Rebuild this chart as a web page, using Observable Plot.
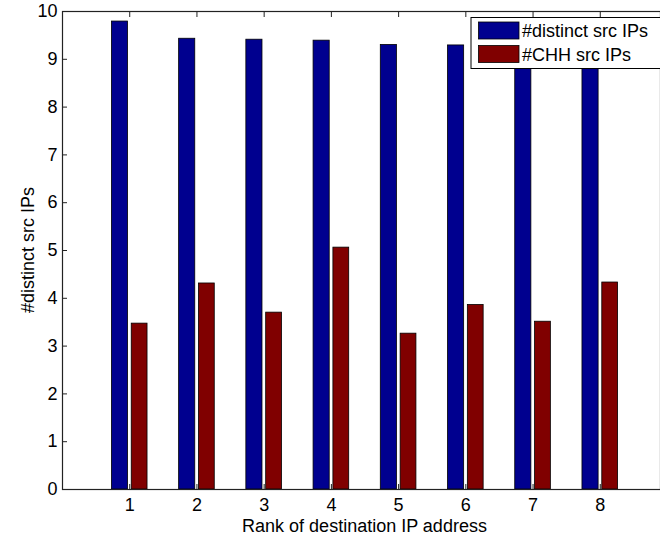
<!DOCTYPE html>
<html>
<head>
<meta charset="utf-8">
<script src="https://cdn.jsdelivr.net/npm/d3@7"></script>
<script src="https://cdn.jsdelivr.net/npm/@observablehq/plot@0.6"></script>
<style>
  html, body { margin: 0; padding: 0; background: #fff; }
  svg { display: block; }
</style>
</head>
<body>
<div id="chart"></div>
<script>
const ranks = [1, 2, 3, 4, 5, 6, 7, 8];
const distinctSrc = [9.79, 9.43, 9.41, 9.39, 9.30, 9.29, 9.20, 9.15];
const chhSrc = [3.47, 4.31, 3.70, 5.06, 3.26, 3.86, 3.51, 4.33];
const seriesNames = ["#distinct src IPs", "#CHH src IPs"];
const seriesColors = ["#00008F", "#800000"];
const yTicks = [0, 1, 2, 3, 4, 5, 6, 7, 8, 9, 10];
const xLabel = "Rank of destination IP address";
const yLabel = "#distinct src IPs";

const data = [];
ranks.forEach((r, i) => {
  data.push({rank: r, series: seriesNames[0], value: distinctSrc[i], k: 0});
  data.push({rank: r, series: seriesNames[1], value: chhSrc[i], k: 1});
});

const font = "'Liberation Sans', Arial, Helvetica, sans-serif";
const fs = 18;

const chart = Plot.plot({
  width: 660,
  height: 538,
  marginLeft: 62,
  marginTop: 11,
  marginBottom: 49,
  marginRight: 0,
  style: {fontFamily: font, fontSize: fs + "px", color: "#000", background: "#fff"},
  x: {type: "linear", domain: [0, 9], range: [62, 667]},
  y: {domain: [0, 10], range: [489, 11]},
  color: {domain: seriesNames, range: seriesColors},
  marks: [
    Plot.rect(data, {
      x1: d => d.k === 0 ? d.rank - 0.265 : d.rank + 0.03,
      x2: d => d.k === 0 ? d.rank - 0.025 : d.rank + 0.265,
      y1: 0,
      y2: "value",
      fill: "series",
      stroke: "#000",
      strokeWidth: 0.8
    }),
    Plot.axisY(yTicks, {anchor: "left", tickSize: -5, text: null, stroke: "#222"}),
    Plot.axisY(yTicks, {anchor: "left", tickSize: 0, tickPadding: 5, fontSize: fs, fill: "#000"}),
    Plot.axisX(ranks, {anchor: "bottom", tickSize: -5, text: null, stroke: "#222"}),
    Plot.axisX(ranks, {anchor: "top", tickSize: -5, text: null, stroke: "#222"}),
    Plot.axisX(ranks, {anchor: "bottom", tickSize: 0, tickPadding: 9, fontSize: fs, fill: "#000", label: null}),
    Plot.frame({stroke: "#222", strokeWidth: 1.2})
  ]
});

const svg = d3.select(chart);
svg.selectAll("[aria-label='y-axis label'], [aria-label='x-axis label']").remove();

// axis titles
svg.append("text")
  .attr("x", 364.5).attr("y", 531.5)
  .attr("text-anchor", "middle")
  .style("font-family", font).style("font-size", fs + "px").attr("fill", "#000")
  .text(xLabel);
svg.append("text")
  .attr("transform", "translate(34,250) rotate(-90)")
  .attr("text-anchor", "middle")
  .style("font-family", font).style("font-size", fs + "px").attr("fill", "#000")
  .text(yLabel);

// legend inside plot
const lg = svg.append("g");
lg.append("rect").attr("x", 471).attr("y", 17.5).attr("width", 220).attr("height", 51)
  .attr("fill", "#fff").attr("stroke", "#000").attr("stroke-width", 1);
seriesNames.forEach((name, i) => {
  const y0 = 22 + i * 23.5;
  lg.append("rect").attr("x", 478.5).attr("y", y0).attr("width", 40.5).attr("height", 17)
    .attr("fill", seriesColors[i]).attr("stroke", "#000").attr("stroke-width", 0.8);
  lg.append("text").attr("x", 522).attr("y", y0 + 15.3)
    .attr("text-anchor", "start")
    .style("font-family", font).style("font-size", fs + "px").attr("fill", "#000")
    .text(name);
});

document.getElementById("chart").appendChild(chart);
</script>
</body>
</html>
